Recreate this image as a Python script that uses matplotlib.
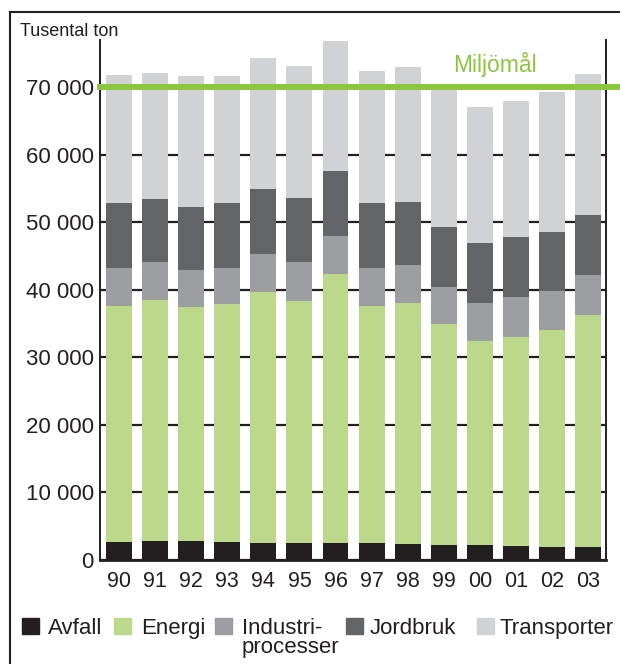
import matplotlib.pyplot as plt
from matplotlib.lines import Line2D
from matplotlib.patches import Rectangle

plt.rcParams['font.family'] = ['Liberation Sans', 'DejaVu Sans']

# Utsläpp av växthusgaser per sektor, tusental ton
years = ['90', '91', '92', '93', '94', '95', '96', '97', '98', '99',
         '00', '01', '02', '03']
avfall = [2650, 2800, 2800, 2650, 2550, 2500, 2500, 2500, 2350, 2200,
          2200, 2050, 1900, 1900]
energi = [34940, 35680, 34640, 35240, 37110, 35830, 39830, 35090, 35680,
          32730, 30210, 30950, 32140, 34360]
industri = [5620, 5620, 5480, 5320, 5630, 5770, 5620, 5620, 5630, 5470,
            5620, 5920, 5770, 5920]
jordbruk = [9620, 9330, 9320, 9620, 9610, 9470, 9620, 9620, 9320, 8880,
            8880, 8880, 8730, 8880]
transporter = [18950, 18640, 19490, 18800, 19390, 19540, 19240, 19540,
               19980, 20420, 20130, 20130, 20720, 20860]
miljomal = 70000

series = [('Avfall', avfall, '#231f20'),
          ('Energi', energi, '#bcd98b'),
          ('Industri-\nprocesser', industri, '#9d9ea2'),
          ('Jordbruk', jordbruk, '#636466'),
          ('Transporter', transporter, '#d1d2d4')]

dark = '#231f20'
green = '#8cc63f'

fig = plt.figure(figsize=(6.2, 6.64), dpi=100)
ax = fig.add_axes([0.1613, 0.1566, 0.8161, 0.7832])

x = range(len(years))
bottom = [0] * len(years)
for name, vals, col in series:
    ax.bar(x, vals, width=0.72, bottom=bottom, color=col, zorder=2)
    bottom = [b + v for b, v in zip(bottom, vals)]

# target line runs past the right spine to the edge of the figure
ax.axhline(miljomal, xmin=0, xmax=1.05, color=green, lw=4.3, zorder=3,
           clip_on=False)
ax.text(9.26, 72200, 'Miljömål', color=green, fontsize=16.5,
        va='baseline', ha='left')

ax.set_xlim(-0.53, 13.5)
ax.set_ylim(0, 77000)
yt = list(range(0, 70001, 10000))
ax.set_yticks(yt)
ax.set_yticklabels([f'{v:,}'.replace(',', ' ') for v in yt])
ax.set_xticks(list(x))
ax.set_xticklabels(years)
ax.tick_params(axis='y', length=0, pad=4.5, labelsize=16, labelcolor=dark)
ax.tick_params(axis='x', length=0, pad=8, labelsize=15.5, labelcolor=dark)

ax.yaxis.grid(True, color=dark, lw=1.6, zorder=0)
ax.set_axisbelow(True)
ax.spines['top'].set_visible(False)
for side, lw in [('left', 1.4), ('right', 1.4), ('bottom', 2.0)]:
    ax.spines[side].set_color(dark)
    ax.spines[side].set_linewidth(lw)

fig.text(20 / 620, 1 - 35.5 / 664, 'Tusental ton', fontsize=13,
         color=dark, va='baseline', ha='left')

# outer frame: top and left edge only
W, H = 620, 664
fig.add_artist(Line2D([10 / W, 1.0], [1 - 11.7 / H, 1 - 11.7 / H],
                      color=dark, lw=1.5, transform=fig.transFigure))
fig.add_artist(Line2D([10 / W, 10 / W], [1 - 11.7 / H, 0.0],
                      color=dark, lw=1.5, transform=fig.transFigure))

# legend drawn by hand so the two-line label keeps its square on top
sq_x = [22, 114, 215, 346, 477]
txt_x = [48, 141, 242, 370, 500]
base_y = 634.3
line_step = 19
for (name, vals, col), sx, tx in zip(series, sq_x, txt_x):
    fig.add_artist(Rectangle((sx / W, 1 - base_y / H), 17 / W, 16 / H,
                             color=col, transform=fig.transFigure))
    for i, part in enumerate(name.split('\n')):
        fig.text(tx / W, 1 - (base_y + i * line_step) / H, part,
                 fontsize=16, color=dark, va='baseline', ha='left')

fig.savefig('out.png', dpi=100)
